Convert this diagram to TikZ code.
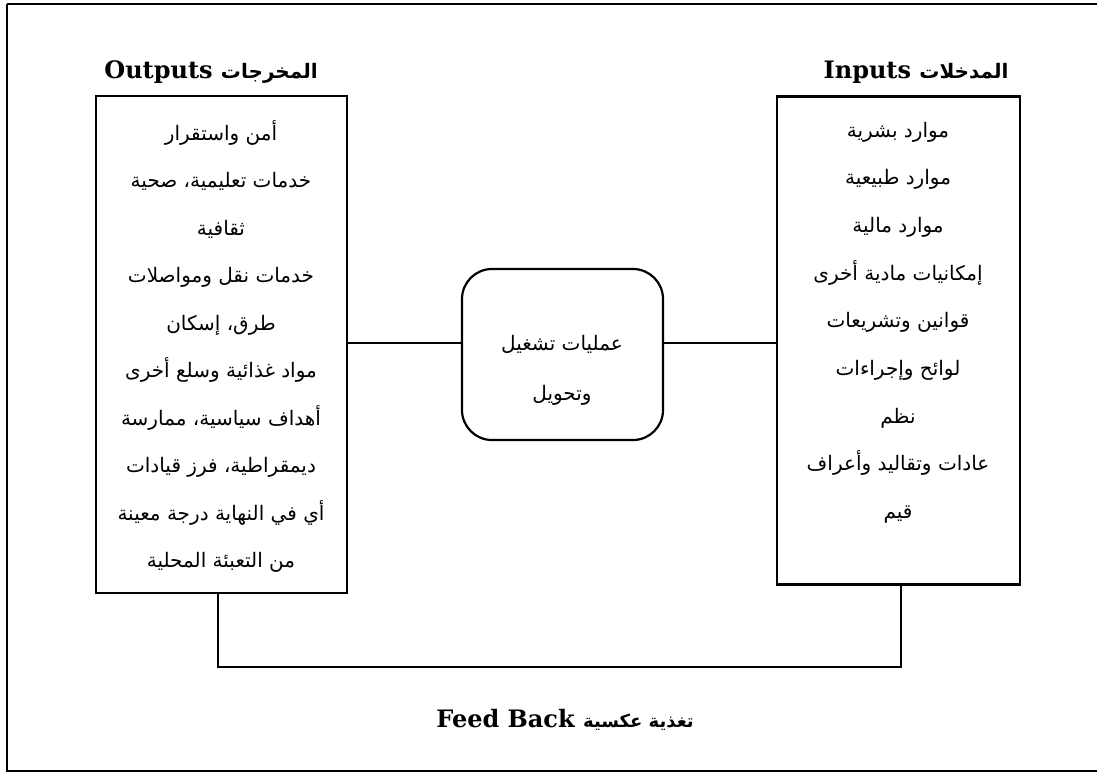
\documentclass[tikz,border=0pt]{standalone}
\usepackage{fontspec}
\setmainfont{DejaVu Serif}
\newfontfamily\arabicfont[Script=Arabic]{DejaVu Sans}
\TeXXeTstate=1
\newcommand{\artext}[1]{{\arabicfont\beginR #1\endR}}
\begin{document}
\begin{tikzpicture}[x=1pt,y=-1pt,
  line/.style={line width=2.2pt,black},
  box/.style={draw,line width=2.2pt,inner sep=0pt},
  arline/.style={anchor=base,inner sep=0pt,font=\fontsize{20}{24}\selectfont},
  heading/.style={anchor=base,inner sep=0pt,font=\fontsize{24}{28}\selectfont\bfseries}]
\useasboundingbox (0,0) rectangle (1097,772);
% outer frame
\draw[line width=2pt] (7,4) -- (1105,4) (7,4) -- (7,771) -- (1105,771);

% headings
\node[heading] (outhead) at (211,78) {Outputs {\fontsize{20}{24}\arabicfont\beginR المخرجات\endR}};
\node[heading] (inhead) at (916,78) {Inputs {\fontsize{20}{24}\arabicfont\beginR المدخلات\endR}};

% the three boxes
\node[box,minimum width=251pt,minimum height=497pt] (outbox) at (221.5,344.5) {};
\node[box,minimum width=243pt,minimum height=488pt] (inbox) at (898.5,340.5) {};
\node[box,rounded corners=30pt,minimum width=201pt,minimum height=171pt] (proc) at (562.5,354.5) {};

% outputs list
\foreach [count=\i] \t in {أمن واستقرار, خدمات تعليمية، صحية, ثقافية, خدمات نقل ومواصلات, طرق، إسكان, مواد غذائية وسلع أخرى, أهداف سياسية، ممارسة, ديمقراطية، فرز قيادات, أي في النهاية درجة معينة, من التعبئة المحلية}
  \node[arline] (out\i) at (221,{140+47.5*(\i-1)}) {\artext{\t}};

% inputs list
\foreach [count=\i] \t in {موارد بشرية, موارد طبيعية, موارد مالية, إمكانيات مادية أخرى, قوانين وتشريعات, لوائح وإجراءات, نظم, عادات وتقاليد وأعراف, قيم}
  \node[arline] (in\i) at (898,{137+47.7*(\i-1)}) {\artext{\t}};

% process text
\node[arline] (proc1) at (562,350) {\artext{عمليات تشغيل}};
\node[arline] (proc2) at (562,400) {\artext{وتحويل}};

% connectors
\draw[line] (outbox.east |- 0,343) -- (proc.west |- 0,343);
\draw[line] (proc.east |- 0,343) -- (inbox.west |- 0,343);
\coordinate (fbl) at (218,667);
\coordinate (fbr) at (901,667);
\draw[line] (outbox.south -| fbl) -- (fbl) -- (fbr) -- (inbox.south -| fbr);

% feedback label
\node[heading] (fb) at (565,727) {Feed Back {\fontsize{18}{22}\arabicfont\beginR تغذية عكسية\endR}};
\end{tikzpicture}
\end{document}
